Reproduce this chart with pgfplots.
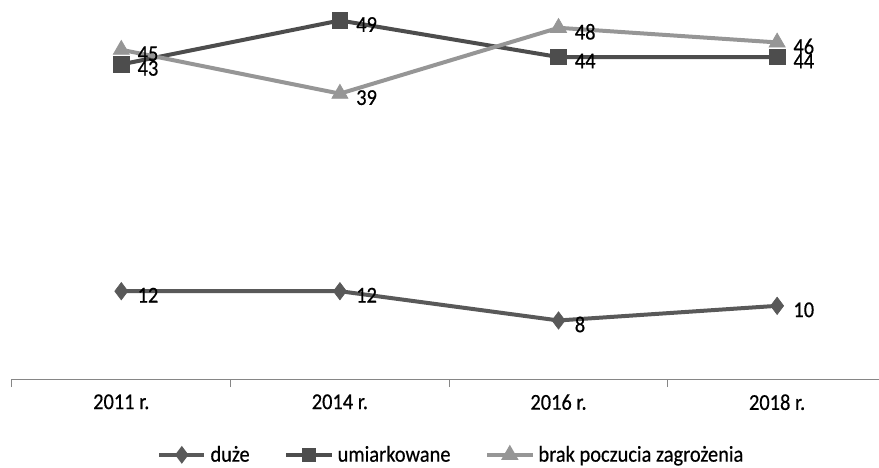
\documentclass[border=0pt]{standalone}
\usepackage{pgfplots}
\pgfplotsset{compat=1.18}
\usepackage{fontspec}
\setmainfont[FakeStretch=0.9, FakeBold=0.5]{Carlito}
\definecolor{cduze}{RGB}{89,89,89}
\definecolor{cumiar}{RGB}{77,77,77}
\definecolor{cbrak}{RGB}{150,150,150}
\definecolor{caxis}{RGB}{134,134,134}
\newcommand{\fsz}{\fontsize{17pt}{19pt}\selectfont}
\begin{document}
\begin{tikzpicture}
\useasboundingbox (-9pt,-66.75pt) rectangle (650.25pt,284.25pt);
\begin{axis}[
  at={(0,0)}, anchor=south west,
  scale only axis, width=650.25pt, height=284.25pt,
  xmin=-0.5, xmax=3.466, ymin=0, ymax=51.8,
  axis x line*=bottom, axis y line=none,
  x axis line style={draw=caxis, line width=0.75pt, -},
  xtick={0,1,2,3},
  xticklabels={2011 r., 2014 r., 2016 r., 2018 r.},
  major tick length=0pt,
  extra x ticks={-0.5,0.5,1.5,2.5},
  extra x tick labels={},
  extra x tick style={major tick length=6pt, tick align=outside, tick style={draw=caxis, line width=0.75pt}},
  xticklabel style={font=\fsz, text=black, yshift=-8pt},
  clip=false,
  font=\fsz,
  /pgf/number format/assume math mode=true,
  nodes near coords,
  every node near coord/.append style={anchor=west, xshift=11pt, yshift=-3pt, text=black, font=\fsz, inner sep=1pt},
  legend columns=3,
  legend style={draw=none, fill=none, at={(0.507,-0.200)}, anchor=center,
    font=\fsz, column sep=1pt, /tikz/every even column/.append style={column sep=24pt}},
  legend image code/.code={
    \draw[#1, mark=none] (0pt,0pt) -- (34pt,0pt);
    \draw[#1, mark options={scale=0.65}] plot coordinates {(17pt,0pt)};
  },
]
\addplot[color=cduze, line width=3pt, mark=diamond*, mark size=6.5pt, mark options={solid, line width=0.5pt, fill=cduze}]
  coordinates {(0,12) (1,12) (2,8) (3,10)};
\addlegendentry{duże}
\addplot[color=cumiar, line width=3pt, mark=square*, mark size=5.8pt, mark options={solid, line width=0.5pt, fill=cumiar}]
  coordinates {(0,43) (1,49) (2,44) (3,44)};
\addlegendentry{umiarkowane}
\addplot[color=cbrak, line width=3pt, mark=triangle*, mark size=7pt, mark options={solid, line width=0.5pt, fill=cbrak}]
  coordinates {(0,45) (1,39) (2,48) (3,46)};
\addlegendentry{brak poczucia zagrożenia}
\end{axis}
\end{tikzpicture}
\end{document}
